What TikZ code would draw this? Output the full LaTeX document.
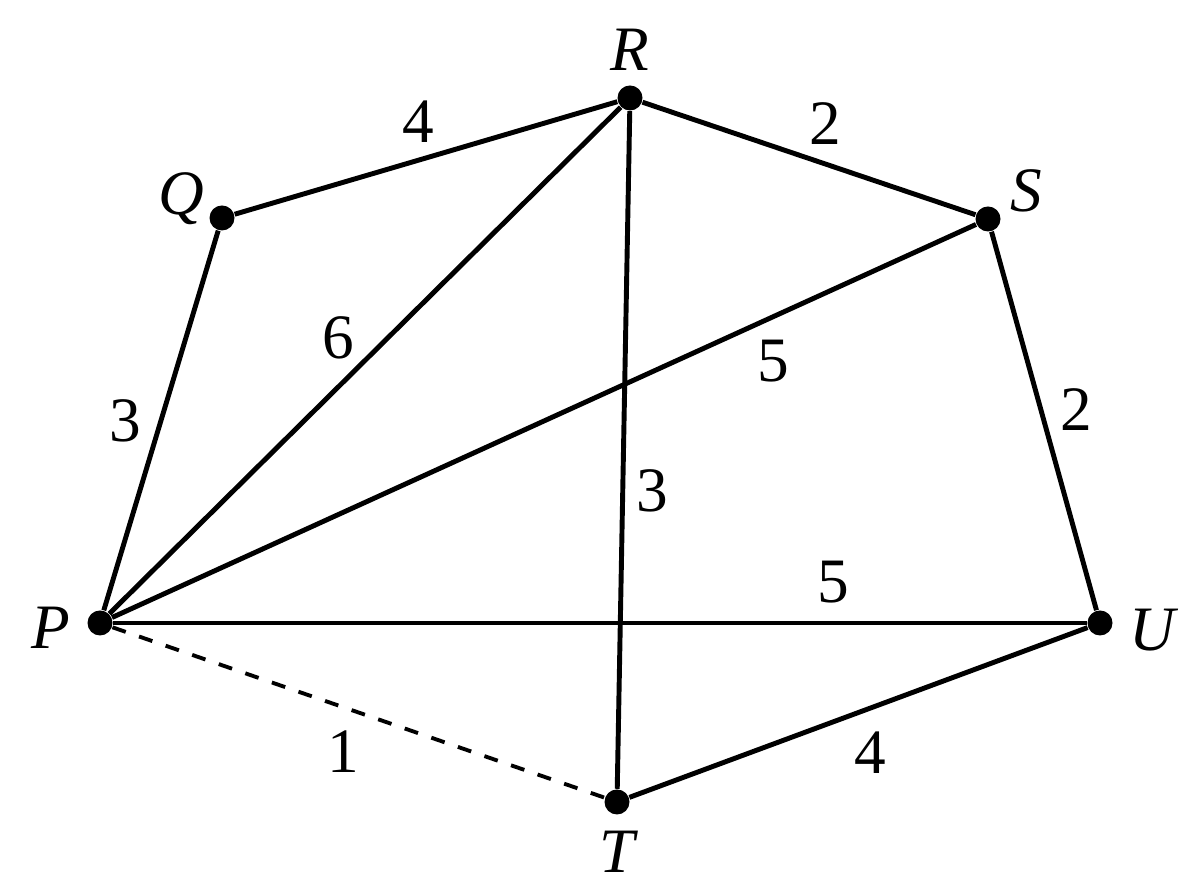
\documentclass[tikz,border=0pt]{standalone}
\usepackage{fontspec}
\setmainfont{Liberation Serif}
\usetikzlibrary{positioning}

\begin{document}
\begin{tikzpicture}[
    every node/.style={font=\fontsize{18}{22}\selectfont},
    vertex/.style={circle, fill=black, inner sep=0pt, minimum size=0.25cm},
    vlabel/.style={inner sep=1pt, font=\fontsize{18}{22}\selectfont\itshape},
    elabel/.style={inner sep=1pt},
    edge/.style={line width=1.4pt},
    nonedge/.style={line width=1.1pt, dash pattern=on 4pt off 4pt}
]
\useasboundingbox (0,0) rectangle (12,8.96);

% Vertices
\node[vertex] (P) at (1.00,2.73) {};
\node[vertex] (Q) at (2.22,6.78) {};
\node[vertex] (R) at (6.30,7.98) {};
\node[vertex] (S) at (9.88,6.77) {};
\node[vertex] (U) at (11.00,2.73) {};
\node[vertex] (T) at (6.17,0.94) {};

% Vertex labels
\node[vlabel, left=3.5pt of P, yshift=-1.4pt] {P};
\node[vlabel, left=0pt of Q, yshift=5.5pt] {Q};
\node[vlabel, above=2.8pt of R] {R};
\node[vlabel, right=1.5pt of S, yshift=8pt] {S};
\node[vlabel, right=3.4pt of U, yshift=-2pt] {U};
\node[vlabel, below=3.4pt of T] {T};

% Edges (with weights)
\draw[edge] (P) -- node[elabel, left=4pt] {3} (Q);
\draw[edge] (Q) -- node[elabel, pos=0.48, above=3.3pt] {4} (R);
\draw[edge] (R) -- node[elabel, pos=0.55, above=4pt] {2} (S);
\draw[edge] (P) -- node[elabel, pos=0.49, above left] {6} (R);
\draw[edge] (P) -- node[elabel, pos=0.765, below=4.8pt] {5} (S);
\draw[edge] (R) -- node[elabel, pos=0.56, right=2.2pt] {3} (T);
\draw[edge] (S) -- node[elabel, pos=0.47, right=4pt] {2} (U);
\draw[edge] (P) -- node[elabel, pos=0.74, above=4pt] {5} (U);
\draw[edge] (T) -- node[elabel, pos=0.525, below=5pt] {4} (U);
\draw[nonedge] (P) -- node[elabel, pos=0.47, below=5pt] {1} (T);

\end{tikzpicture}
\end{document}
